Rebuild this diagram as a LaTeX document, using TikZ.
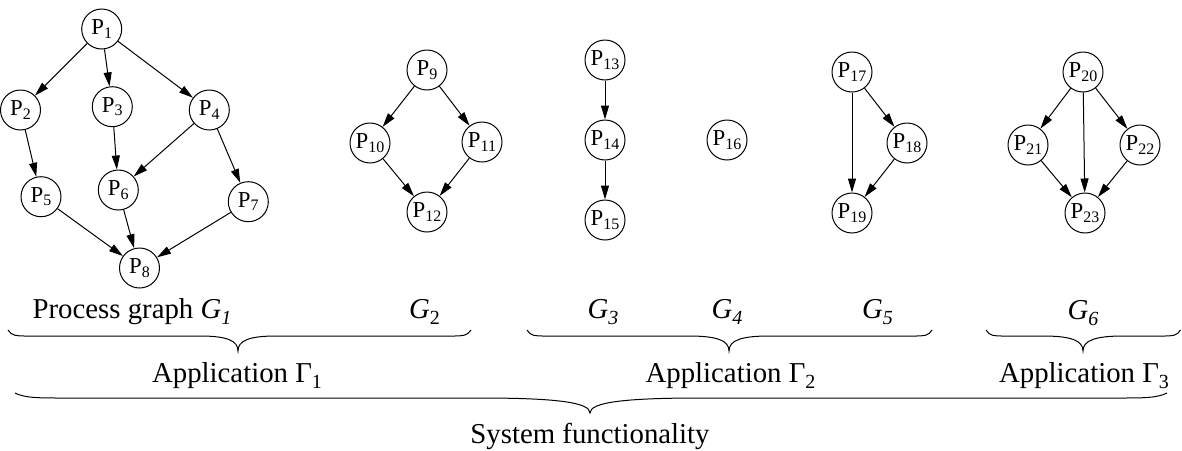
\documentclass[tikz,border=0pt]{standalone}
\usepackage{fontspec}
\setmainfont{Liberation Serif}
\usetikzlibrary{arrows.meta}
\newcommand\plab[1]{P\raisebox{-1.8pt}{\fontsize{8}{9}\selectfont #1}}
\newcommand\glab[1]{\textit{G}\raisebox{-3pt}{\fontsize{10}{12}\selectfont #1}}
\newcommand\gamlab[1]{Γ\raisebox{-3.3pt}{\fontsize{10}{12}\selectfont #1}}
% brace: x0, x1, xtip, yend, yline, ytip, hook, mid
\newcommand\hbr[8]{%
  \draw[bracestyle] (#1,#4) .. controls (#1+0.2*#7,#5) and (#1+0.5*#7,#5) .. (#1+#7,#5)
    -- (#3-#8,#5) .. controls (#3-0.3*#8,#5) and (#3,#5+0.3*#6-0.3*#5) .. (#3,#6)
    .. controls (#3,#5+0.3*#6-0.3*#5) and (#3+0.3*#8,#5) .. (#3+#8,#5)
    -- (#2-#7,#5) .. controls (#2-0.5*#7,#5) and (#2-0.2*#7,#5) .. (#2,#4);}
\begin{document}
\begin{tikzpicture}[x=0.5pt,y=-0.5pt,
  proc/.style={circle,draw,line width=0.5pt,minimum size=20pt,inner sep=0pt,
    font=\fontsize{11.4}{13}\selectfont},
  edge/.style={line width=0.5pt,-{Triangle[length=7pt,width=4pt]}},
  lab/.style={anchor=base,inner sep=0pt,font=\fontsize{14.4}{17}\selectfont},
  bracestyle/.style={line width=0.5pt}]
\useasboundingbox (0,0) rectangle (1182,450);
% G1
\node[proc] (p1) at (101.7,29) {\plab{1}};
\node[proc] (p2) at (20.5,110) {\plab{2}};
\node[proc] (p3) at (112.3,106.7) {\plab{3}};
\node[proc] (p4) at (209.3,110) {\plab{4}};
\node[proc] (p5) at (41,196.7) {\plab{5}};
\node[proc] (p6) at (118.3,190) {\plab{6}};
\node[proc] (p7) at (248.3,201.7) {\plab{7}};
\node[proc] (p8) at (139.5,268) {\plab{8}};
\draw[edge] (p1) -- (p2);
\draw[edge] (p1) -- (p3);
\draw[edge] (p1) -- (p4);
\draw[edge] (p2) -- (p5);
\draw[edge] (p3) -- (p6);
\draw[edge] (p4) -- (p6);
\draw[edge] (p4) -- (p7);
\draw[edge] (p5) -- (p8);
\draw[edge] (p6) -- (p8);
\draw[edge] (p7) -- (p8);
% G2
\node[proc] (p9) at (427,70) {\plab{9}};
\node[proc] (p10) at (370,143) {\plab{10}};
\node[proc] (p11) at (482,142) {\plab{11}};
\node[proc] (p12) at (427,212) {\plab{12}};
\draw[edge] (p9) -- (p10);
\draw[edge] (p9) -- (p11);
\draw[edge] (p10) -- (p12);
\draw[edge] (p11) -- (p12);
% G3, G4
\node[proc] (p13) at (605,60) {\plab{13}};
\node[proc] (p14) at (605,140) {\plab{14}};
\node[proc] (p15) at (605,220) {\plab{15}};
\node[proc] (p16) at (727,140) {\plab{16}};
\draw[edge] (p13) -- (p14);
\draw[edge] (p14) -- (p15);
% G5
\node[proc] (p17) at (852,72) {\plab{17}};
\node[proc] (p18) at (907,143) {\plab{18}};
\node[proc] (p19) at (852,213) {\plab{19}};
\draw[edge] (p17) -- (p19);
\draw[edge] (p17) -- (p18);
\draw[edge] (p18) -- (p19);
% G6
\node[proc] (p20) at (1083,72) {\plab{20}};
\node[proc] (p21) at (1028,145) {\plab{21}};
\node[proc] (p22) at (1140,145) {\plab{22}};
\node[proc] (p23) at (1085,213) {\plab{23}};
\draw[edge] (p20) -- (p21);
\draw[edge] (p20) -- (p23);
\draw[edge] (p20) -- (p22);
\draw[edge] (p21) -- (p23);
\draw[edge] (p22) -- (p23);
% graph labels
\node[lab] (g1) at (132,318) {Process graph \glab{\textit{1}}};
\node[lab] (g2) at (424.5,318) {\glab{2}};
\node[lab] (g3) at (603,318) {\glab{\textit{3}}};
\node[lab] (g4) at (727,318) {\glab{\textit{4}}};
\node[lab] (g5) at (877.5,318) {\glab{\textit{5}}};
\node[lab] (g6) at (1083,319) {\glab{\textit{6}}};
% braces
\hbr{8}{471}{238}{330}{336}{351}{18}{38}
\hbr{527}{932}{729}{330}{336}{351}{17}{40}
\hbr{986}{1180.5}{1083}{330}{336}{351}{17}{40}
\hbr{15}{1167}{590}{393}{398}{413}{48}{110}
% application labels
\node[lab] (a1) at (237,382) {Application \gamlab{1}};
\node[lab] (a2) at (730.5,382) {Application \gamlab{2}};
\node[lab] (a3) at (1084,382) {Application \gamlab{3}};
\node[lab] (sys) at (590,443) {System functionality};
\end{tikzpicture}
\end{document}
